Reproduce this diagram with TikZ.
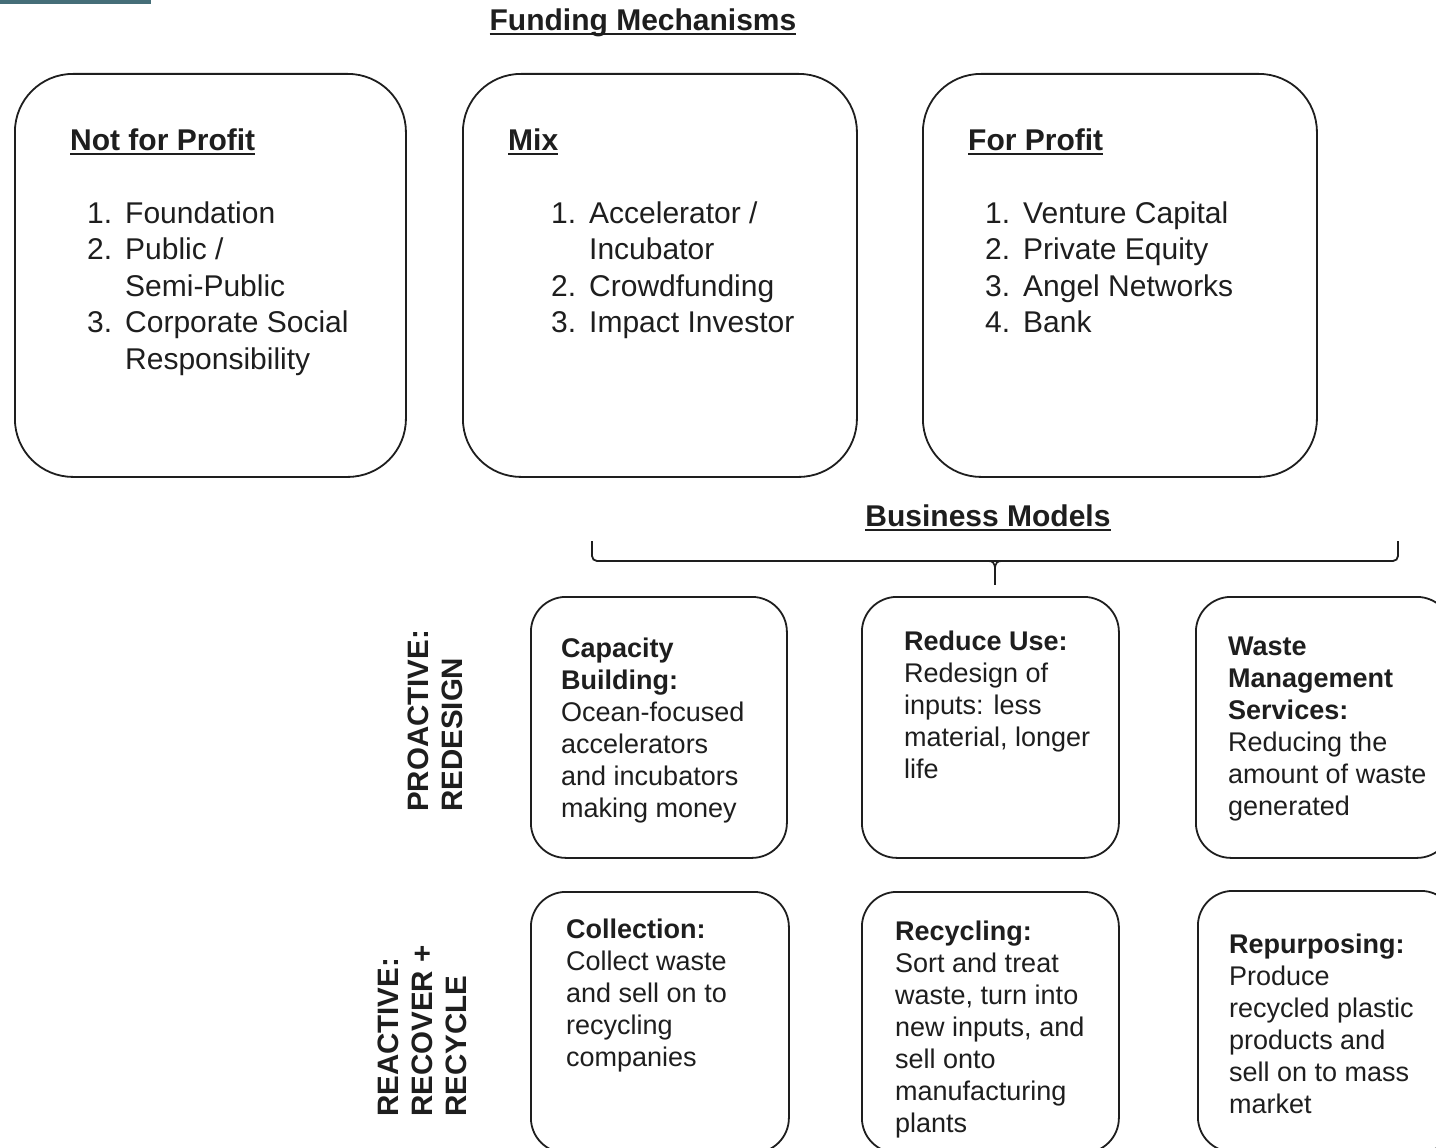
\documentclass[tikz,border=0pt]{standalone}
\usepackage{fontspec}
\setmainfont{Liberation Sans}
\definecolor{barcol}{HTML}{456E78}
\definecolor{ink}{HTML}{1E1E1E}
\newcommand\ulx[1]{\setbox0\hbox{#1}\rlap{\rule[-4.5pt]{\wd0}{2pt}}\box0}
\newcommand\lns[1]{\begin{tabular}[t]{@{}l@{}}#1\end{tabular}}
\newcommand\itm[1]{\makebox[38pt][l]{#1}}
\begin{document}
\begin{tikzpicture}[x=1pt,y=-1pt,
  bigbox/.style={draw=ink, line width=1.8pt, rounded corners=58pt, anchor=north west,
     inner sep=0pt, minimum height=403pt},
  smallbox/.style={draw=ink, line width=1.8pt, rounded corners=35pt, anchor=north west,
     inner sep=0pt, minimum height=261pt},
  big/.style={text=ink, inner sep=0pt, anchor=base west, font=\fontsize{30}{36.5}\selectfont},
  small/.style={text=ink, inner sep=0pt, anchor=base west, font=\fontsize{27}{32}\selectfont},
  side/.style={text=ink, inner sep=0pt, anchor=base west, rotate=90, font=\fontsize{29.5}{34}\selectfont\bfseries},
]
\clip (0,0) rectangle (1436,1148);
\fill[white] (0,0) rectangle (1436,1148);
\fill[barcol] (0,0) rectangle (151,4);

% title
\node[big, anchor=base] (title) at (643,31) {\bfseries\ulx{Funding Mechanisms}};

% funding boxes
\node[bigbox, minimum width=391pt] (nfp) at (14,73) {};
\node[bigbox, minimum width=394pt] (mix) at (462,73) {};
\node[bigbox, minimum width=394pt] (fp) at (922,73) {};

\node[big] (nfph) at (70,150) {\bfseries\ulx{Not for Profit}};
\node[big] (nfpl) at (87,223) {\lns{\itm{1.}Foundation\\ \itm{2.}Public /\\ \itm{}Semi-Public\\ \itm{3.}Corporate Social\\ \itm{}Responsibility}};

\node[big] (mixh) at (508,150) {\bfseries\ulx{Mix}};
\node[big] (mixl) at (551,223) {\lns{\itm{1.}Accelerator /\\ \itm{}Incubator\\ \itm{2.}Crowdfunding\\ \itm{3.}Impact Investor}};

\node[big] (fph) at (968,150) {\bfseries\ulx{For Profit}};
\node[big] (fpl) at (985,223) {\lns{\itm{1.}Venture Capital\\ \itm{2.}Private Equity\\ \itm{3.}Angel Networks\\ \itm{4.}Bank}};

% business models
\node[big, anchor=base] (bm) at (988,526) {\bfseries\ulx{Business Models}};
\draw[ink, line width=1.8pt, rounded corners=5pt] (592,541) -- (592,561) -- (1398,561) -- (1398,541);
\draw[ink, line width=1.8pt] (995,566) -- (995,585);
\draw[ink, line width=1.6pt] (988,561) .. controls (993,561) and (995,563) .. (995,570);
\draw[ink, line width=1.6pt] (1002,561) .. controls (997,561) and (995,563) .. (995,570);

% side labels
\node[side] (pro) at (428,812) {\lns{PROACTIVE:\\REDESIGN}};
\node[side] (rea) at (398,1117) {\lns{REACTIVE:\\RECOVER +\\RECYCLE}};

% row 1
\node[smallbox, minimum width=256pt] (cap) at (530,596) {};
\node[smallbox, minimum width=257pt] (red) at (861,596) {};
\node[smallbox, minimum width=256pt] (wms) at (1195,596) {};
\node[small] at (561,657) {\lns{\textbf{Capacity}\\ \textbf{Building:}\\ Ocean-focused\\ accelerators\\ and incubators\\ making money}};
\node[small] at (904,650) {\lns{\textbf{Reduce Use:}\\ Redesign of\\ inputs: less\\ material, longer\\ life}};
\node[small] at (1228,655) {\lns{\textbf{Waste}\\ \textbf{Management}\\ \textbf{Services:}\\ Reducing the\\ amount of waste\\ generated}};

% row 2
\node[smallbox, minimum width=258pt] (col) at (530,891) {};
\node[smallbox, minimum width=257pt] (rec) at (861,891) {};
\node[smallbox, minimum width=258pt] (rep) at (1197,890) {};
\node[small] at (566,938) {\lns{\textbf{Collection:}\\ Collect waste\\ and sell on to\\ recycling\\ companies}};
\node[small] at (895,940) {\lns{\textbf{Recycling:}\\ Sort and treat\\ waste, turn into\\ new inputs, and\\ sell onto\\ manufacturing\\ plants}};
\node[small] at (1229,953) {\lns{\textbf{Repurposing:}\\ Produce\\ recycled plastic\\ products and\\ sell on to mass\\ market}};
\end{tikzpicture}
\end{document}
